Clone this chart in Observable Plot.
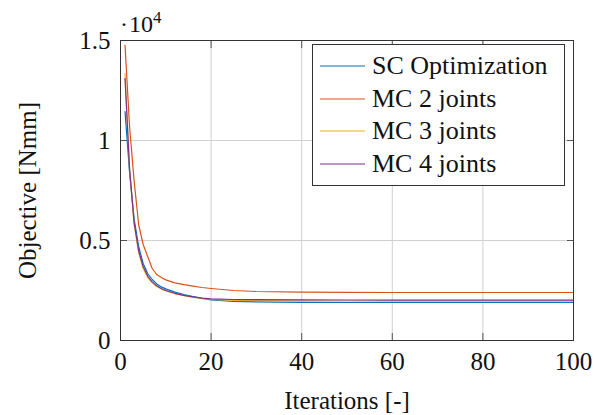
<!DOCTYPE html>
<html>
<head>
<meta charset="utf-8">
<script src="https://cdn.jsdelivr.net/npm/d3@7"></script>
<script src="https://cdn.jsdelivr.net/npm/@observablehq/plot@0.6"></script>
<style>
  body { margin: 0; background: #fff; }
  #wrap { position: relative; width: 594px; height: 415px; font-family: "Liberation Serif", "DejaVu Serif", serif; }
  #exp { position: absolute; left: 120px; top: 13px; font-size: 24px; line-height: 22px; color: #111; white-space: nowrap; }
  #exp .dot { margin-right: 1px; }
  #exp .sup { font-size: 17px; position: relative; top: -9px; }
  #legend { position: absolute; left: 312px; top: 44px; width: 253px; height: 142px; border: 1px solid #333; background: #fff; box-sizing: border-box; }
  .row { position: absolute; left: 0; height: 32px; display: flex; align-items: center; font-size: 26px; color: #111; }
  .row svg { margin-left: 7px; margin-right: 7px; }
</style>
</head>
<body>
<div id="wrap"></div>
<script>
// Data (Objective in Nmm)
const iterations = [1,2,3,4,5,6,7,8,9,10,12,14,16,18,20,25,30,40,50,60,70,80,90,100];
const scOptimization = [11450,8400,6100,4700,3850,3350,3050,2830,2680,2580,2420,2300,2200,2110,2030,1960,1930,1910,1900,1900,1900,1900,1900,1900];
const mc2Joints = [14760,10700,8000,5800,4800,4200,3600,3300,3150,3030,2880,2790,2720,2650,2600,2500,2450,2420,2410,2400,2400,2400,2400,2400];
const mc3Joints = [13350,8600,5800,4400,3600,3150,2880,2700,2570,2480,2340,2240,2160,2100,2050,2000,1990,1980,1975,1970,1970,1970,1970,1970];
const mc4Joints = [13100,8600,5900,4500,3700,3220,2930,2740,2600,2500,2360,2260,2180,2120,2080,2050,2040,2030,2025,2020,2020,2020,2020,2020];
const seriesNames = ["SC Optimization","MC 2 joints","MC 3 joints","MC 4 joints"];
const seriesColors = ["#0072BD","#D95319","#EDB120","#7E2F8E"];
const xTicks = [0,20,40,60,80,100];
const yTicks = [0,5000,10000,15000];

const seriesValues = [scOptimization, mc2Joints, mc3Joints, mc4Joints];
const data = [];
seriesNames.forEach((name, s) => {
  iterations.forEach((it, i) => data.push({series: name, x: it, y: seriesValues[s][i]}));
});

const chart = Plot.plot({
  width: 594,
  height: 415,
  marginLeft: 120,
  marginRight: 21,
  marginTop: 40,
  marginBottom: 75,
  style: {fontFamily: "Liberation Serif", fontSize: "25px", color: "#111", background: "#fff"},
  x: {domain: [0, 100]},
  y: {domain: [0, 15000]},
  color: {domain: seriesNames, range: seriesColors},
  marks: [
    Plot.gridX([20,40,60,80], {stroke: "#d0d0d0", strokeOpacity: 1}),
    Plot.gridY([5000,10000], {stroke: "#d0d0d0", strokeOpacity: 1}),
    Plot.axisX(xTicks, {anchor: "bottom", tickSize: 0, tickPadding: 12, fontSize: 25, label: "Iterations [-]", labelAnchor: "center", labelOffset: 68, labelArrow: "none"}),
    Plot.axisY(yTicks, {anchor: "left", tickSize: 0, tickPadding: 10, fontSize: 25, tickFormat: d => d / 1e4, label: "Objective [Nmm]", labelAnchor: "center", labelOffset: 102, labelArrow: "none"}),
    Plot.axisX(xTicks, {anchor: "bottom", tickSize: -7, tickFormat: () => "", label: null, stroke: "#555"}),
    Plot.axisX(xTicks, {anchor: "top", tickSize: -7, tickFormat: () => "", label: null, stroke: "#555"}),
    Plot.axisY(yTicks, {anchor: "left", tickSize: -7, tickFormat: () => "", label: null, stroke: "#555"}),
    Plot.axisY(yTicks, {anchor: "right", tickSize: -7, tickFormat: () => "", label: null, stroke: "#555"}),
    Plot.line(data, {x: "x", y: "y", z: "series", stroke: "series", strokeWidth: 1.2}),
    Plot.frame({stroke: "#333", strokeWidth: 1})
  ]
});

const wrap = document.getElementById("wrap");
wrap.appendChild(chart);

const exp = document.createElement("div");
exp.id = "exp";
exp.innerHTML = '<span class="dot">·</span>10<span class="sup">4</span>';
wrap.appendChild(exp);

const legend = document.createElement("div");
legend.id = "legend";
seriesNames.forEach((name, i) => {
  const row = document.createElement("div");
  row.className = "row";
  row.style.top = (5 + i * 32.7) + "px";
  const svgNS = "http://www.w3.org/2000/svg";
  const sw = document.createElementNS(svgNS, "svg");
  sw.setAttribute("width", "45");
  sw.setAttribute("height", "4");
  const ln = document.createElementNS(svgNS, "line");
  ln.setAttribute("x1", "0"); ln.setAttribute("x2", "45");
  ln.setAttribute("y1", "2"); ln.setAttribute("y2", "2");
  ln.setAttribute("stroke", seriesColors[i]);
  ln.setAttribute("stroke-width", "1.2");
  sw.appendChild(ln);
  const t = document.createElement("span");
  t.textContent = name;
  row.appendChild(sw);
  row.appendChild(t);
  legend.appendChild(row);
});
wrap.appendChild(legend);
</script>
</body>
</html>
